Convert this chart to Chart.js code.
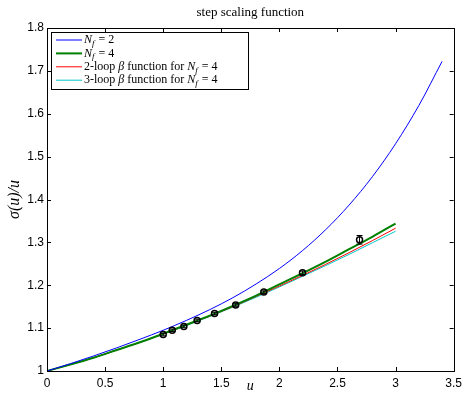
<!DOCTYPE html>
<html>
<head>
<meta charset="utf-8">
<script src="https://cdn.jsdelivr.net/npm/chart.js@4.4.1/dist/chart.umd.min.js"></script>
<style>
  body { margin: 0; background: #fff; }
  #wrap { width: 467px; height: 395px; }
</style>
</head>
<body>
<div id="wrap"><canvas id="chartStepScaling" width="467" height="395"></canvas></div>
<script>
// coupling values u
const uNf2 = [0, 0.2, 0.4, 0.6, 0.8, 1.0, 1.2, 1.4, 1.6, 1.8, 2.0, 2.2, 2.4, 2.6, 2.8, 3.0, 3.2, 3.4];
const sigmaNf2 = [1.000, 1.017, 1.035, 1.054, 1.074, 1.095, 1.118, 1.143, 1.171, 1.203, 1.239, 1.281, 1.330, 1.387, 1.453, 1.530, 1.619, 1.722];

const uNf4 = [0, 0.2, 0.4, 0.6, 0.8, 1.0, 1.2, 1.4, 1.6, 1.8, 2.0, 2.2, 2.4, 2.6, 2.8, 3.0];
const sigmaNf4 = [1.000, 1.015, 1.031, 1.049, 1.067, 1.087, 1.108, 1.129, 1.152, 1.176, 1.202, 1.228, 1.255, 1.284, 1.313, 1.344];
const sigma2loop = [1.000, 1.015, 1.031, 1.049, 1.067, 1.086, 1.107, 1.128, 1.150, 1.174, 1.198, 1.223, 1.249, 1.276, 1.304, 1.333];
const sigma3loop = [1.000, 1.015, 1.031, 1.049, 1.067, 1.086, 1.106, 1.127, 1.149, 1.172, 1.196, 1.221, 1.246, 1.272, 1.299, 1.326];

// measured points with error bars
const uData = [1.0, 1.078, 1.178, 1.292, 1.442, 1.624, 1.866, 2.199, 2.69];
const sigmaData = [1.085, 1.095, 1.104, 1.118, 1.134, 1.154, 1.184, 1.229, 1.306];
const sigmaErr = [0.003, 0.003, 0.003, 0.003, 0.003, 0.003, 0.003, 0.004, 0.010];

const xTicks = [0, 0.5, 1, 1.5, 2, 2.5, 3, 3.5];
const yTicks = [1, 1.1, 1.2, 1.3, 1.4, 1.5, 1.6, 1.7, 1.8];

const SERIF = '"Liberation Serif", "Times New Roman", serif';
const SANS = '"Liberation Sans", Arial, sans-serif';

function pts(xs, ys) {
    return xs.map((x, i) => ({ x: x, y: ys[i] }));
}

// legend entries: text pieces (italic / subscript) like the LaTeX labels
const legendItems = [
    { color: '#0000ff', width: 1, parts: [{ t: 'N', it: true }, { t: 'f', it: true, sub: true }, { t: ' = 2' }] },
    { color: '#008000', width: 2, parts: [{ t: 'N', it: true }, { t: 'f', it: true, sub: true }, { t: ' = 4' }] },
    { color: '#ff0000', width: 1, parts: [{ t: '2-loop ' }, { t: 'β', it: true }, { t: ' function for ' }, { t: 'N', it: true }, { t: 'f', it: true, sub: true }, { t: ' = 4' }] },
    { color: '#00c8c8', width: 1, parts: [{ t: '3-loop ' }, { t: 'β', it: true }, { t: ' function for ' }, { t: 'N', it: true }, { t: 'f', it: true, sub: true }, { t: ' = 4' }] }
];

function drawRich(ctx, parts, x, y, size) {
    parts.forEach(p => {
        const s = p.sub ? Math.round(size * 0.72) : size;
        ctx.font = (p.it ? 'italic ' : '') + s + 'px ' + SERIF;
        ctx.fillText(p.t, x, y + (p.sub ? size * 0.28 : 0));
        x += ctx.measureText(p.t).width + (p.sub ? 1 : 0);
    });
}

// box, inward ticks, error bars, title, axis titles and legend
const matlabLook = {
    id: 'matlabLook',
    afterDatasetsDraw(chart) {
        const ctx = chart.ctx;
        const a = chart.chartArea;
        const xs = chart.scales.x, ys = chart.scales.y;

        ctx.save();
        // error bars
        ctx.strokeStyle = '#000';
        ctx.lineWidth = 1;
        uData.forEach((u, i) => {
            const px = xs.getPixelForValue(u);
            const top = ys.getPixelForValue(sigmaData[i] + sigmaErr[i]);
            const bot = ys.getPixelForValue(sigmaData[i] - sigmaErr[i]);
            ctx.beginPath();
            ctx.moveTo(px, top); ctx.lineTo(px, bot);
            ctx.moveTo(px - 3, top); ctx.lineTo(px + 3, top);
            ctx.moveTo(px - 3, bot); ctx.lineTo(px + 3, bot);
            ctx.stroke();
        });

        // axes box
        ctx.strokeRect(Math.round(a.left) + 0.5, Math.round(a.top) + 0.5,
            Math.round(a.right - a.left), Math.round(a.bottom - a.top));

        // inward ticks on all four sides
        ctx.beginPath();
        xTicks.forEach(v => {
            const px = Math.round(xs.getPixelForValue(v)) + 0.5;
            ctx.moveTo(px, a.bottom); ctx.lineTo(px, a.bottom - 4);
            ctx.moveTo(px, a.top); ctx.lineTo(px, a.top + 4);
        });
        yTicks.forEach(v => {
            const py = Math.round(ys.getPixelForValue(v)) + 0.5;
            ctx.moveTo(a.left, py); ctx.lineTo(a.left + 4, py);
            ctx.moveTo(a.right, py); ctx.lineTo(a.right - 4, py);
        });
        ctx.stroke();

        // title
        ctx.fillStyle = '#000';
        ctx.textAlign = 'center';
        ctx.textBaseline = 'alphabetic';
        ctx.font = '13px ' + SERIF;
        ctx.fillText('step scaling function', (a.left + a.right) / 2, 16);

        // axis titles
        ctx.font = 'italic 14px ' + SERIF;
        ctx.fillText('u', (a.left + a.right) / 2, 390);
        ctx.save();
        ctx.translate(19, (a.top + a.bottom) / 2);
        ctx.rotate(-Math.PI / 2);
        ctx.font = 'italic 16px ' + SERIF;
        ctx.fillText('σ(u)/u', 0, 0);
        ctx.restore();

        // legend
        const lx = 51, ly = 32, lw = 197, lh = 57;
        ctx.fillStyle = '#fff';
        ctx.fillRect(lx, ly, lw, lh);
        ctx.strokeStyle = '#000';
        ctx.lineWidth = 1;
        ctx.strokeRect(lx + 0.5, ly + 0.5, lw, lh);
        ctx.textAlign = 'left';
        ctx.textBaseline = 'middle';
        legendItems.forEach((item, i) => {
            const y = 40 + i * 13.4;
            ctx.strokeStyle = item.color;
            ctx.lineWidth = item.width;
            ctx.beginPath();
            ctx.moveTo(56, y); ctx.lineTo(82, y);
            ctx.stroke();
            ctx.fillStyle = '#000';
            drawRich(ctx, item.parts, 84, y, 12);
        });
        ctx.restore();
    }
};

const ctx = document.getElementById('chartStepScaling');

new Chart(ctx, {
    type: 'scatter',
    data: {
        datasets: [
            {
                label: 'data',
                data: pts(uData, sigmaData),
                showLine: false,
                pointRadius: 3,
                pointBorderWidth: 1.5,
                pointBorderColor: '#000',
                pointBackgroundColor: 'rgba(0,0,0,0)'
            },
            {
                label: 'N_f = 2',
                data: pts(uNf2, sigmaNf2),
                showLine: true,
                borderColor: '#0000ff',
                borderWidth: 1,
                pointRadius: 0,
                cubicInterpolationMode: 'monotone'
            },
            {
                label: 'N_f = 4',
                data: pts(uNf4, sigmaNf4),
                showLine: true,
                borderColor: '#008000',
                borderWidth: 2,
                pointRadius: 0,
                cubicInterpolationMode: 'monotone'
            },
            {
                label: '2-loop',
                data: pts(uNf4, sigma2loop),
                showLine: true,
                borderColor: '#ff0000',
                borderWidth: 1,
                pointRadius: 0,
                cubicInterpolationMode: 'monotone'
            },
            {
                label: '3-loop',
                data: pts(uNf4, sigma3loop),
                showLine: true,
                borderColor: '#00c8c8',
                borderWidth: 1,
                pointRadius: 0,
                cubicInterpolationMode: 'monotone'
            }
        ]
    },
    options: {
        responsive: false,
        animation: false,
        devicePixelRatio: 1,
        layout: {
            padding: { top: 28, right: 10, left: 0, bottom: 0 }
        },
        plugins: {
            legend: { display: false },
            title: { display: false },
            tooltip: { enabled: false }
        },
        scales: {
            x: {
                type: 'linear',
                min: 0,
                max: 3.5,
                afterBuildTicks: s => { s.ticks = xTicks.map(v => ({ value: v })); },
                afterFit: s => { s.height = 24; },
                ticks: {
                    color: '#000',
                    font: { family: SANS, size: 12 },
                    padding: 5,
                    maxRotation: 0,
                    autoSkip: false,
                    callback: v => String(v)
                },
                grid: { display: false, drawTicks: false },
                border: { display: false }
            },
            y: {
                min: 1,
                max: 1.8,
                afterBuildTicks: s => { s.ticks = yTicks.map(v => ({ value: v })); },
                afterFit: s => { s.width = 47; },
                ticks: {
                    color: '#000',
                    font: { family: SANS, size: 12 },
                    padding: 3,
                    autoSkip: false,
                    callback: v => String(Math.round(v * 10) / 10)
                },
                grid: { display: false, drawTicks: false },
                border: { display: false }
            }
        }
    },
    plugins: [matlabLook]
});
</script>
</body>
</html>
